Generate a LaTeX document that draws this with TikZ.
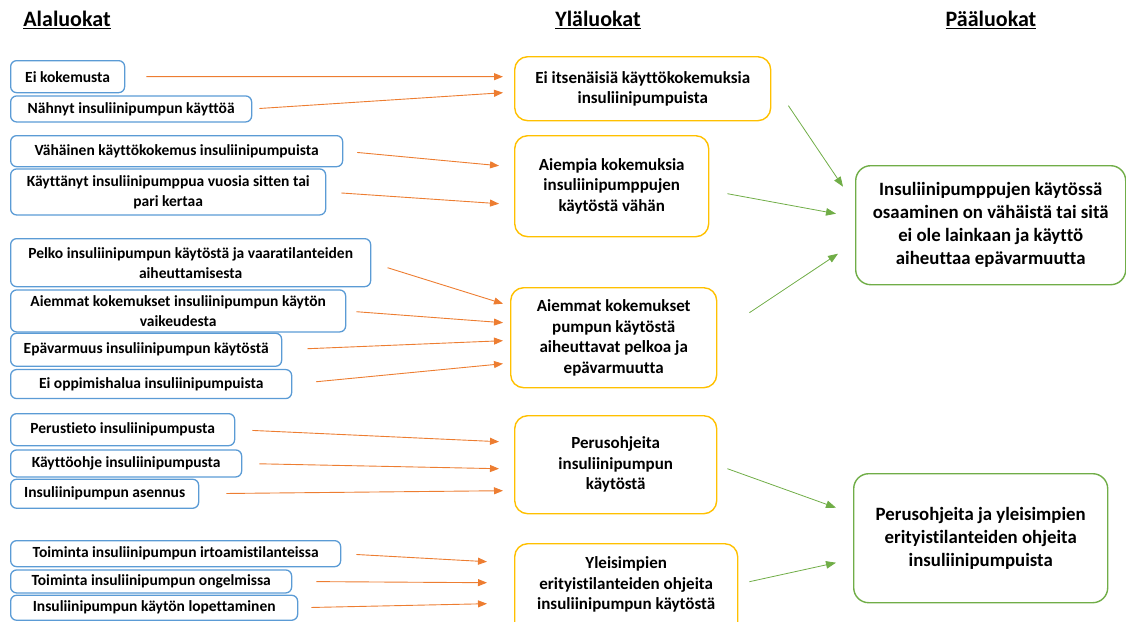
\documentclass[tikz,border=0pt]{standalone}
\usepackage{fontspec}
\setmainfont{Carlito}[Ligatures=NoCommon]
\usepackage{tikz}
\usetikzlibrary{arrows.meta,positioning,calc}

\definecolor{subblue}{HTML}{5B9BD5}
\definecolor{upyellow}{HTML}{FFC000}
\definecolor{maingreen}{HTML}{70AD47}
\definecolor{arrorange}{HTML}{ED7D31}

\begin{document}
\begin{tikzpicture}[
    x=1pt, y=-1pt,
    title/.style={
        font=\bfseries\fontsize{22}{26}\selectfont
    },
    sub/.style={
        draw=subblue,
        line width=1.3pt,
        rounded corners=6pt,
        inner xsep=0pt,
        inner ysep=0pt,
        align=center,
        anchor=north west,
        font=\bfseries\fontsize{15.5}{20}\selectfont
    },
    upper/.style={
        draw=upyellow,
        line width=1.4pt,
        rounded corners=13pt,
        inner sep=0pt,
        align=center,
        anchor=north west,
        font=\bfseries\fontsize{17}{20.5}\selectfont
    },
    main/.style={
        draw=maingreen,
        line width=1.4pt,
        rounded corners=15pt,
        inner sep=0pt,
        align=center,
        anchor=north west,
        font=\bfseries\fontsize{18.8}{23}\selectfont
    },
    orarrow/.style={draw=arrorange, line width=0.9pt, -{Triangle[length=9pt, width=7pt]}},
    grarrow/.style={draw=maingreen, line width=0.8pt, -{Triangle[length=10pt, width=7.5pt]}}
]
\useasboundingbox (0,0) rectangle (1126,621);
\clip (0,0) rectangle (1126,621);

% otsikot
\node[title] (ala) at (67,20) {\underline{Alaluokat}};
\node[title] (yla) at (598,20) {\underline{Yläluokat}};
\node[title] (paa) at (991,20) {\underline{Pääluokat}};

% alaluokat
\node[sub, minimum width=114pt, minimum height=32pt] (a1) at (10,60) {Ei kokemusta};
\node[sub, below=2pt of a1.south west, anchor=north west, minimum width=241pt, minimum height=26pt] (a2) {Nähnyt insuliinipumpun käyttöä};

\node[sub, minimum width=332pt, minimum height=31pt] (a3) at (10,135) {Vähäinen käyttökokemus insuliinipumpuista};
\node[sub, below=1pt of a3.south west, anchor=north west, minimum width=315pt, minimum height=46pt] (a4) {Käyttänyt insuliinipumppua vuosia sitten tai\\pari kertaa};

\node[sub, minimum width=360pt, minimum height=48pt] (a5) at (10,238) {Pelko insuliinipumpun käytöstä ja vaaratilanteiden\\aiheuttamisesta};
\node[sub, below=2pt of a5.south west, anchor=north west, minimum width=335pt, minimum height=42pt] (a6) {Aiemmat kokemukset insuliinipumpun käytön\\vaikeudesta};
\node[sub, below=0pt of a6.south west, anchor=north west, minimum width=271pt, minimum height=33pt] (a7) {Epävarmuus insuliinipumpun käytöstä};
\node[sub, below=2pt of a7.south west, anchor=north west, minimum width=281pt, minimum height=29pt] (a8) {Ei oppimishalua insuliinipumpuista};

\node[sub, minimum width=224pt, minimum height=32pt] (a9) at (10,413) {Perustieto insuliinipumpusta};
\node[sub, below=3pt of a9.south west, anchor=north west, minimum width=231pt, minimum height=27pt] (a10) {Käyttöohje insuliinipumpusta};
\node[sub, below=1pt of a10.south west, anchor=north west, minimum width=188pt, minimum height=29pt] (a11) {Insuliinipumpun asennus};

\node[sub, minimum width=330pt, minimum height=26pt] (a12) at (10,540) {Toiminta insuliinipumpun irtoamistilanteissa};
\node[sub, below=2pt of a12.south west, anchor=north west, minimum width=281pt, minimum height=23pt] (a13) {Toiminta insuliinipumpun ongelmissa};
\node[sub, below=1pt of a13.south west, anchor=north west, minimum width=287pt, minimum height=25pt] (a14) {Insuliinipumpun käytön lopettaminen};

% yläluokat
\node[upper, minimum width=256pt, minimum height=64pt] (y1) at (514,56) {Ei itsenäisiä käyttökokemuksia\\insuliinipumpuista};
\node[upper, minimum width=194pt, minimum height=101pt] (y2) at (514,135) {Aiempia kokemuksia\\insuliinipumppujen\\käytöstä vähän};
\node[upper, minimum width=206pt, minimum height=100pt] (y3) at (510,287) {Aiemmat kokemukset\\pumpun käytöstä\\aiheuttavat pelkoa ja\\epävarmuutta};
\node[upper, minimum width=202pt, minimum height=98pt] (y4) at (514,415) {Perusohjeita\\insuliinipumpun\\käytöstä};
% laatikko jatkuu kuvan alareunan yli
\node[upper, minimum width=223pt, minimum height=100pt] (y5) at (514,543) {Yleisimpien\\erityistilanteiden ohjeita\\insuliinipumpun käytöstä\\\mbox{}};

% pääluokat
\node[main, minimum width=270pt, minimum height=119pt] (p1) at (855,165) {Insuliinipumppujen käytössä\\osaaminen on vähäistä tai sitä\\ei ole lainkaan ja käyttö\\aiheuttaa epävarmuutta};
\node[main, minimum width=254pt, minimum height=129pt] (p2) at (853,473) {Perusohjeita ja yleisimpien\\erityistilanteiden ohjeita\\insuliinipumpuista};

% alaluokat -> yläluokat
\draw[orarrow, shorten <=21pt] (a1.east) -- ($(y1.west)+(-11,-12)$);
\draw[orarrow, shorten <=7pt] (a2.east) -- ($(y1.west)+(-11,4)$);
\draw[orarrow, shorten <=14pt] (a3.east) -- ($(y2.west)+(-15,-20.5)$);
\draw[orarrow, shorten <=15pt] (a4.east) -- ($(y2.west)+(-15,17.5)$);
\draw[orarrow, shorten <=17pt] (a5.east) -- ($(y3.west)+(-7,-34)$);
\draw[orarrow, shorten <=10pt] (a6.east) -- ($(y3.west)+(-7,-15)$);
\draw[orarrow, shorten <=25pt] (a7.east) -- ($(y3.west)+(-7,3)$);
\draw[orarrow, shorten <=24pt] (a8.east) -- ($(y3.west)+(-7,26)$);
\draw[orarrow, shorten <=17pt] (a9.east) -- ($(y4.west)+(-15,-23)$);
\draw[orarrow, shorten <=17pt] (a10.east) -- ($(y4.west)+(-15,4)$);
\draw[orarrow, shorten <=27pt] (a11.east) -- ($(y4.west)+(-11,26)$);
\draw[orarrow, shorten <=15pt] (a12.east) -- ($(y5.west)+(-27,-32)$);
\draw[orarrow, shorten <=24pt] (a13.east) -- ($(y5.west)+(-27,-11)$);
\draw[orarrow, shorten <=13pt] (a14.east) -- ($(y5.west)+(-27,10)$);

% yläluokat -> pääluokat
\draw[grarrow] ($(y1.east)+(17,17)$) -- ($(p1.west)+(-12,-38.5)$);
\draw[grarrow] ($(y2.east)+(18,7.5)$) -- ($(p1.west)+(-19,-11.5)$);
\draw[grarrow] ($(y3.east)+(32,-25)$) -- ($(p1.west)+(-17,28.5)$);
\draw[grarrow] ($(y4.east)+(10,4)$) -- ($(p2.west)+(-17,-30.5)$);
\draw[grarrow] ($(y5.east)+(11,-12)$) -- ($(p2.west)+(-17,24.5)$);
\end{tikzpicture}
\end{document}
